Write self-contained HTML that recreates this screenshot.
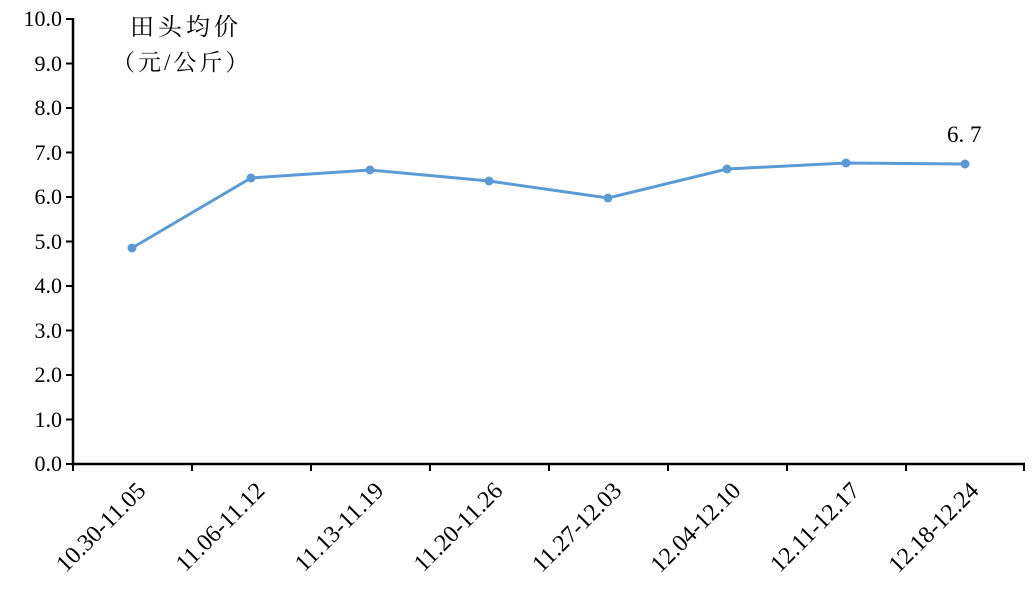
<!DOCTYPE html>
<html><head><meta charset="utf-8"><style>body{margin:0;background:#fff}svg{display:block}text{font-family:"Liberation Serif","Noto Serif CJK SC",serif;fill:#000}</style></head>
<body>
<svg width="1036" height="606" viewBox="0 0 1036 606">
<g stroke="#000" stroke-width="2.5" fill="none">
<line x1="73" y1="18" x2="73" y2="466"/>
<line x1="72" y1="464" x2="1025" y2="464"/>
</g>
<g stroke="#000" stroke-width="2">
<line x1="66" y1="464" x2="73" y2="464"/><line x1="66" y1="419.5" x2="73" y2="419.5"/><line x1="66" y1="375" x2="73" y2="375"/><line x1="66" y1="330.5" x2="73" y2="330.5"/><line x1="66" y1="286" x2="73" y2="286"/><line x1="66" y1="241.5" x2="73" y2="241.5"/><line x1="66" y1="197" x2="73" y2="197"/><line x1="66" y1="152.5" x2="73" y2="152.5"/><line x1="66" y1="108" x2="73" y2="108"/><line x1="66" y1="63.5" x2="73" y2="63.5"/><line x1="66" y1="19" x2="73" y2="19"/>
<line x1="73" y1="464" x2="73" y2="471"/><line x1="192" y1="464" x2="192" y2="471"/><line x1="311" y1="464" x2="311" y2="471"/><line x1="430" y1="464" x2="430" y2="471"/><line x1="549" y1="464" x2="549" y2="471"/><line x1="668" y1="464" x2="668" y2="471"/><line x1="787" y1="464" x2="787" y2="471"/><line x1="906" y1="464" x2="906" y2="471"/><line x1="1024" y1="464" x2="1024" y2="471"/>
</g>
<g font-size="22" text-anchor="end">
<text x="62" y="471">0.0</text><text x="62" y="427">1.0</text><text x="62" y="382">2.0</text><text x="62" y="338">3.0</text><text x="62" y="293">4.0</text><text x="62" y="249">5.0</text><text x="62" y="204">6.0</text><text x="62" y="160">7.0</text><text x="62" y="115">8.0</text><text x="62" y="71">9.0</text><text x="62" y="26">10.0</text>
</g>
<g font-size="24" text-anchor="end">
<text transform="translate(147,492) rotate(-45)">10.30-11.05</text>
<text transform="translate(266,492) rotate(-45)">11.06-11.12</text>
<text transform="translate(385,492) rotate(-45)">11.13-11.19</text>
<text transform="translate(504,492) rotate(-45)">11.20-11.26</text>
<text transform="translate(623,492) rotate(-45)">11.27-12.03</text>
<text transform="translate(742,492) rotate(-45)">12.04-12.10</text>
<text transform="translate(861,492) rotate(-45)">12.11-12.17</text>
<text transform="translate(980,492) rotate(-45)">12.18-12.24</text>
</g>
<text x="130" y="35" font-size="24" font-family="'Noto Sans CJK SC',sans-serif" style="letter-spacing:4px">田头均价</text>
<text x="112" y="70" font-size="23" font-family="'Noto Sans CJK SC',sans-serif" style="letter-spacing:3px">（元/公斤）</text>
<text x="947" y="142" font-size="23">6. 7</text>
<polyline fill="none" stroke="#5B9BD5" stroke-width="3" points="132,248 251,178 370,170 489,181 608,198 727,169 846,163 965,164"/>
<g fill="#5B9BD5">
<circle cx="132" cy="248" r="4.5"/><circle cx="251" cy="178" r="4.5"/><circle cx="370" cy="170" r="4.5"/><circle cx="489" cy="181" r="4.5"/><circle cx="608" cy="198" r="4.5"/><circle cx="727" cy="169" r="4.5"/><circle cx="846" cy="163" r="4.5"/><circle cx="965" cy="164" r="4.5"/>
</g>
</svg>
</body></html>
